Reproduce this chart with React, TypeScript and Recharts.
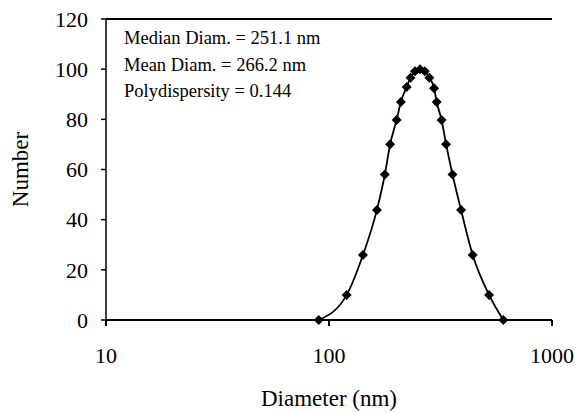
import { LineChart, Line, XAxis, YAxis, ReferenceLine } from 'recharts'

// particle size distribution
const diameters = [90, 120, 142, 164, 178, 188, 201, 210, 223, 232, 243, 256, 269, 282, 296, 304, 320, 335, 358, 391, 441, 522, 605]
const numbers = [0, 10, 25.9, 43.9, 58, 70.1, 79.7, 86.9, 92.9, 96.6, 99.2, 100, 99.2, 96.6, 92.4, 86.9, 79.7, 70.1, 58, 43.9, 25.9, 10, 0]

const xTicks = [10, 100, 1000]
const yTicks = [0, 20, 40, 60, 80, 100, 120]

const notes = ['Median Diam. = 251.1 nm', 'Mean Diam. = 266.2 nm', 'Polydispersity = 0.144']

const data = diameters.map((d, i) => ({ d, n: numbers[i] }))

const FONT = '"Liberation Serif", "Times New Roman", serif'

function Diamond(props: any) {
  const { cx, cy, index } = props
  if (cx == null || cy == null) return <g key={index} />
  const r = 5
  return (
    <path
      key={index}
      d={`M${cx},${cy - r}L${cx + r},${cy}L${cx},${cy + r}L${cx - r},${cy}Z`}
      fill="#000"
    />
  )
}

const XTick = (p: any) => (
  <text x={p.x} y={p.y} dy="0.71em" textAnchor="middle" fontSize={22} fontFamily={FONT} fill="#000">
    {p.payload.value}
  </text>
)

const YTick = (p: any) => (
  <text x={p.x} y={p.y} dy="0.35em" textAnchor="end" fontSize={22} fontFamily={FONT} fill="#000">
    {p.payload.value}
  </text>
)

export default function App() {
  return (
    <div style={{ position: 'absolute', left: 0, top: 0, background: '#fff', fontFamily: FONT }}>
      <LineChart width={579} height={413} data={data} margin={{ top: 19, right: 27, bottom: 0, left: 0 }}>
        <XAxis
          dataKey="d"
          type="number"
          scale="log"
          domain={[10, 1000]}
          ticks={xTicks}
          allowDataOverflow
          height={93}
          tick={XTick}
          tickSize={6}
          tickMargin={21}
          stroke="#000"
          strokeWidth={2}
          label={{
            content: (p: any) => {
              const vb = p.viewBox
              return (
                <text x={vb.x + vb.width / 2} y={vb.y + 86} textAnchor="middle" fontSize={23} fontFamily={FONT} fill="#000">
                  Diameter (nm)
                </text>
              )
            },
          }}
        />
        <YAxis
          type="number"
          domain={[0, 120]}
          ticks={yTicks}
          width={106}
          tick={YTick}
          tickSize={5}
          tickMargin={13}
          stroke="#000"
          strokeWidth={1.5}
          label={{
            content: (p: any) => {
              const vb = p.viewBox
              const x = vb.x + 28
              const y = vb.y + vb.height / 2
              return (
                <text x={x} y={y} transform={`rotate(-90 ${x} ${y})`} textAnchor="middle" fontSize={23} fontFamily={FONT} fill="#000">
                  Number
                </text>
              )
            },
          }}
        />
        <YAxis
          yAxisId="right"
          orientation="right"
          type="number"
          domain={[0, 120]}
          width={0}
          tick={false}
          tickLine={false}
          stroke="#666"
          strokeWidth={1}
        />
        <ReferenceLine
          y={120}
          stroke="#000"
          strokeWidth={2}
          label={{
            content: (p: any) => {
              const vb = p.viewBox
              return (
                <g>
                  {notes.map((t, i) => (
                    <text key={t} x={vb.x + 18} y={vb.y + 25 + i * 26.5} fontSize={18.5} fontFamily={FONT} fill="#000">
                      {t}
                    </text>
                  ))}
                </g>
              )
            },
          }}
        />
        <Line
          type="monotone"
          dataKey="n"
          stroke="#000"
          strokeWidth={1.8}
          dot={Diamond}
          activeDot={false}
          isAnimationActive={false}
        />
      </LineChart>
    </div>
  )
}
